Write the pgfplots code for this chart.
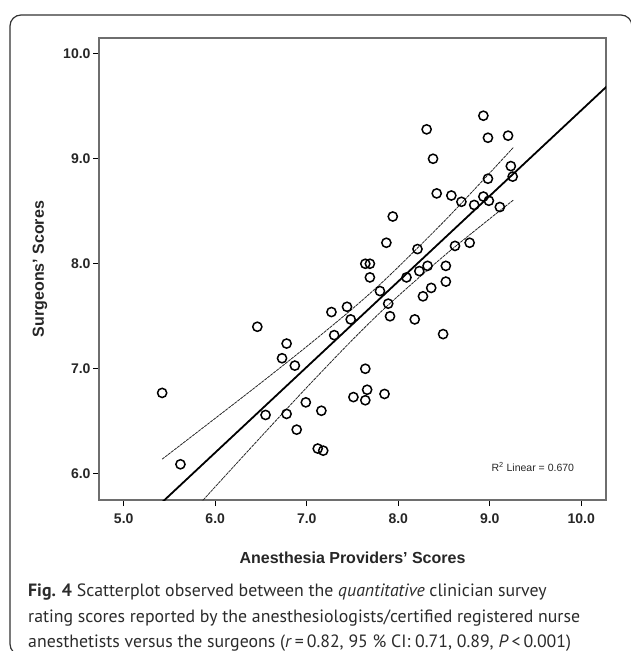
\documentclass[border=0pt]{standalone}
\usepackage{fontspec}
\setmainfont{Liberation Sans}
\newfontfamily\capfont{PT Sans}
\usepackage{pgfplots}
\pgfplotsset{compat=1.18}

\definecolor{framegray}{HTML}{333333}
\definecolor{axisgray}{HTML}{6E6E6E}
\definecolor{captext}{HTML}{2B2B2B}

\begin{document}
\begin{tikzpicture}
\useasboundingbox (0,0) rectangle (630pt,-651pt);

% outer frame (cut by the page at the right and bottom)
\draw[framegray, line width=1.2pt, rounded corners=11pt]
  (632pt,-655pt) -- (10pt,-655pt) -- (10pt,-15pt) -- (632pt,-15pt) -- (632pt,-40pt);

\begin{axis}[
    at={(99pt,-500pt)},
    anchor=south west,
    scale only axis,
    width=507pt,
    height=462pt,
    xmin=4.73, xmax=10.27,
    ymin=5.75, ymax=10.15,
    xtick={5,6,7,8,9,10},
    ytick={6,7,8,9,10},
    xtick pos=bottom,
    ytick pos=left,
    tick align=outside,
    major tick length=6pt,
    every tick/.style={black, line width=1pt},
    axis line style={axisgray, line width=1.3pt},
    xticklabel style={/pgf/number format/.cd, fixed, fixed zerofill, precision=1, /tikz/.cd, yshift=-4pt},
    yticklabel style={/pgf/number format/.cd, fixed, fixed zerofill, precision=1, /tikz/.cd, xshift=1pt},
    /pgf/number format/assume math mode=true,
    tick label style={font=\bfseries\fontsize{14}{16}\selectfont, text=black!85},
    xlabel={Anesthesia Providers' Scores},
    ylabel={Surgeons' Scores},
    label style={font=\bfseries\fontsize{16}{18}\selectfont, text=black!85},
    xlabel style={at={(axis description cs:0.5,-0.1255)}, anchor=center},
    ylabel style={at={(axis description cs:-0.1164,0.5)}, anchor=center},
    clip=true
]

% confidence band, upper
\addplot[black!85, line width=0.8pt, dash pattern=on 3pt off 0.8pt, smooth] coordinates {
(5.42,6.139) (6.0,6.528) (6.5,6.866) (7.0,7.212) (7.5,7.572)
(7.9,7.885) (8.5,8.403) (9.0,8.865) (9.26,9.110)
};

% confidence band, lower
\addplot[black!85, line width=0.8pt, dash pattern=on 3pt off 0.8pt, smooth] coordinates {
(5.42,5.319) (6.0,5.876) (6.5,6.352) (7.0,6.822) (7.5,7.276)
(7.9,7.615) (8.5,8.075) (9.0,8.429) (9.26,8.608)
};

% fit line
\addplot[black, line width=1.8pt] coordinates {(5.3,5.631) (10.4,9.788)};

% observations
\addplot[only marks, mark=o, mark size=4.6pt, mark options={line width=1.5pt, black}] table {
x y
5.42 6.77
5.62 6.09
6.46 7.40
6.55 6.56
6.73 7.10
6.78 7.24
6.78 6.57
6.87 7.03
6.89 6.42
6.99 6.68
7.12 6.24
7.18 6.22
7.16 6.60
7.27 7.54
7.30 7.32
7.44 7.59
7.48 7.47
7.51 6.73
7.64 7.00
7.64 6.70
7.66 6.80
7.64 8.00
7.69 8.00
7.69 7.87
7.80 7.74
7.85 6.76
7.87 8.20
7.89 7.62
7.91 7.50
7.94 8.45
8.09 7.87
8.18 7.47
8.21 8.14
8.23 7.93
8.27 7.69
8.32 7.98
8.31 9.28
8.36 7.77
8.38 9.00
8.42 8.67
8.49 7.33
8.52 7.98
8.52 7.83
8.58 8.65
8.62 8.17
8.69 8.59
8.78 8.20
8.83 8.56
8.93 8.64
8.93 9.41
8.99 8.60
8.98 9.20
8.98 8.81
9.11 8.54
9.20 9.22
9.23 8.93
9.25 8.83
};

\node[font=\fontsize{10.5}{12}\selectfont, text=black!85] at (axis cs:9.47,6.06)
  {R\textsuperscript{2} Linear = 0.670};

\end{axis}

% caption
\begin{scope}[every node/.style={anchor=base west, inner sep=0pt, text=captext,
    font=\capfont\fontsize{17.8}{21}\selectfont}]
\node at (28pt,-596pt) {\textbf{Fig. 4} Scatterplot observed between the \textit{quantitative} clinician survey};
\node at (28pt,-622pt) {rating scores reported by the anesthesiologists/certified registered nurse};
\node at (28pt,-647pt) {anesthetists versus the surgeons (\textit{r}\,=\,0.82, 95~\% CI: 0.71, 0.89, \textit{P}\,<\,0.001)};
\end{scope}

\end{tikzpicture}
\end{document}
